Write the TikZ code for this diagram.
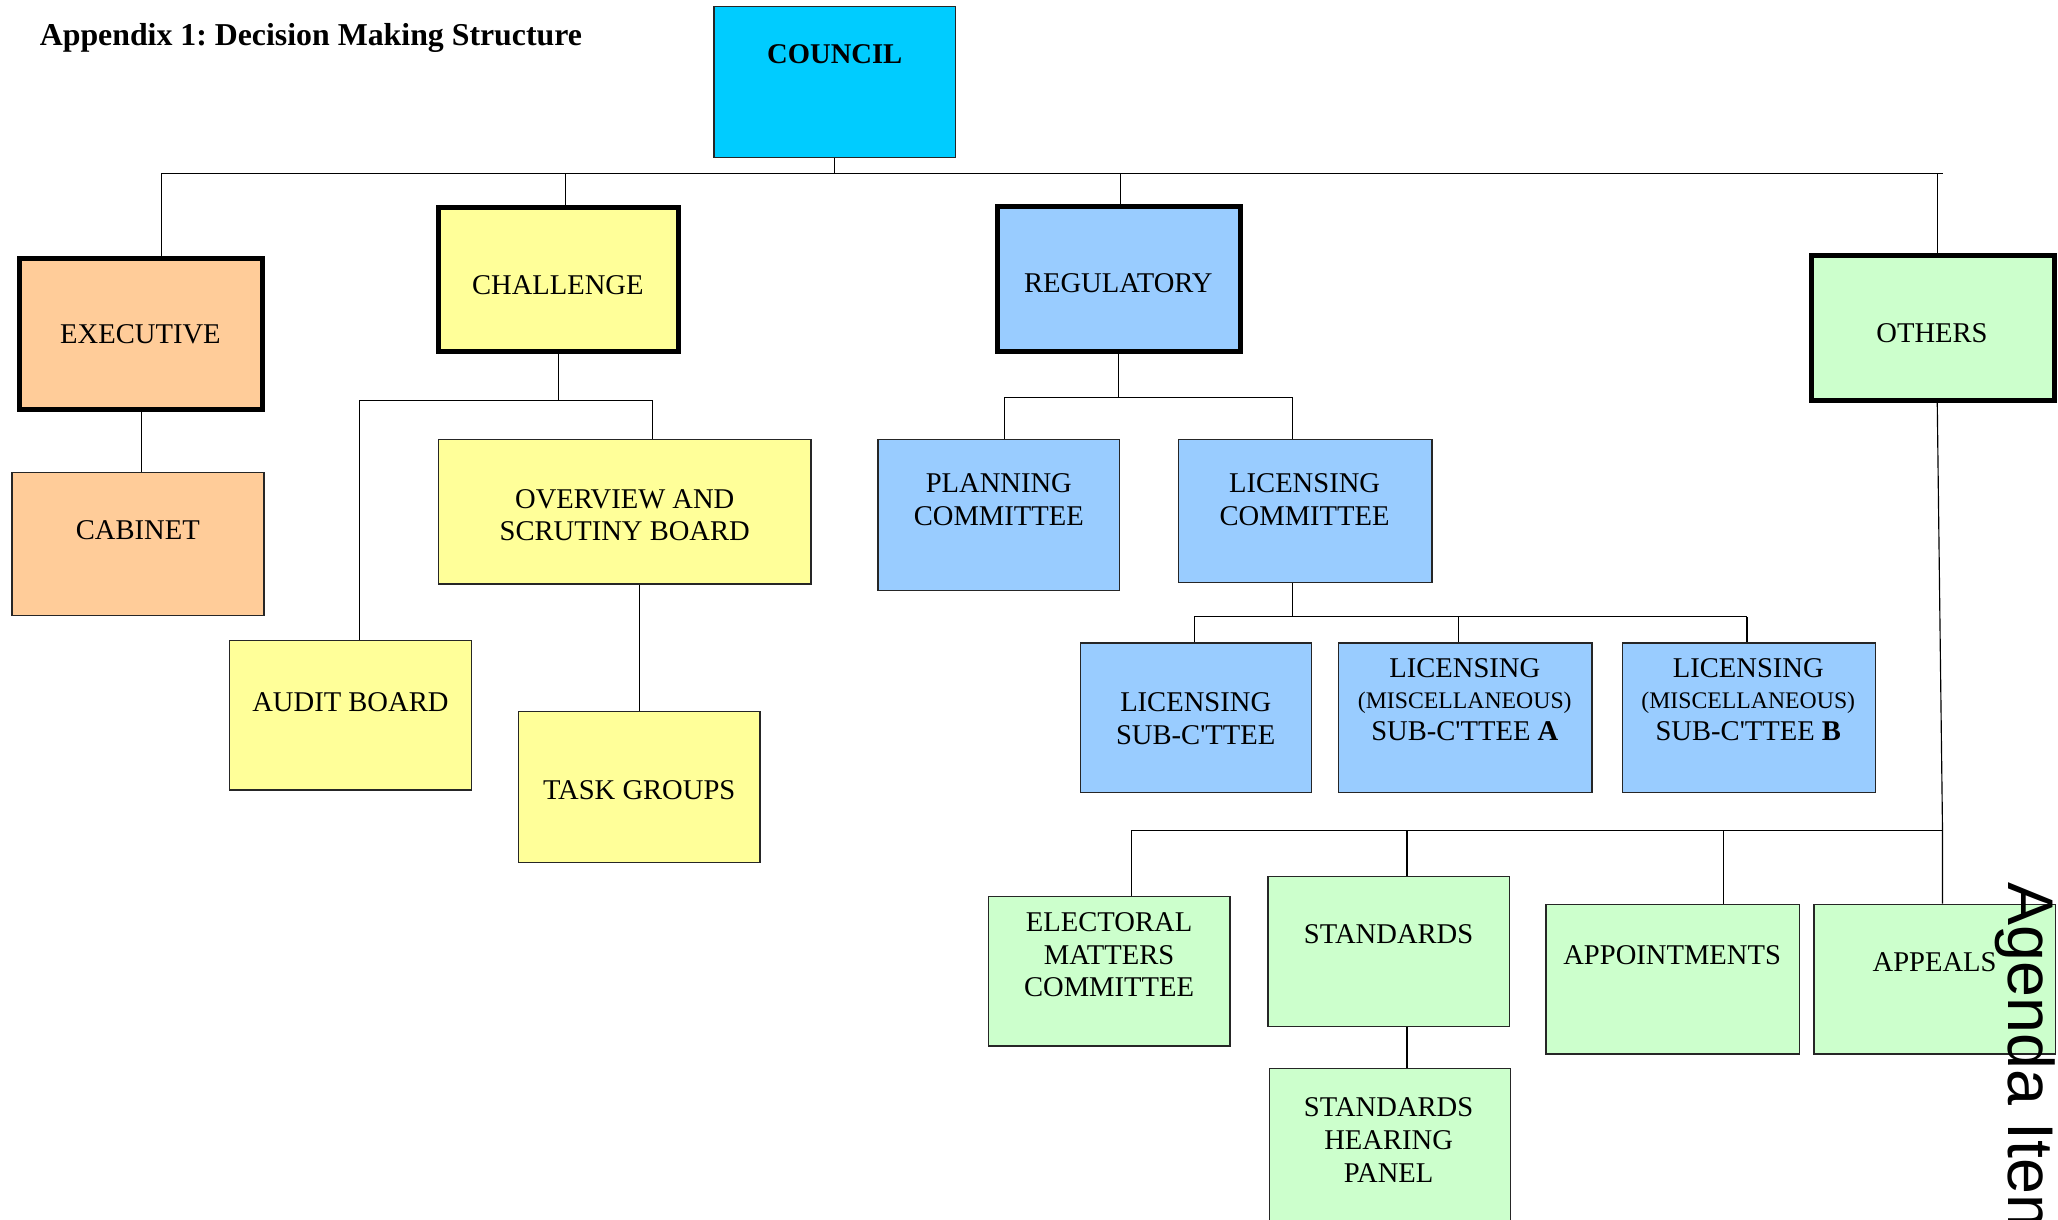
\documentclass[tikz,border=0pt]{standalone}
\usepackage{fontspec}
\setmainfont{Liberation Serif}
\newfontfamily\agendafont{Liberation Sans}
\usetikzlibrary{fit}
\frenchspacing

\definecolor{councilcol}{HTML}{00CCFF}
\definecolor{execcol}{HTML}{FFCC99}
\definecolor{chalcol}{HTML}{FFFF99}
\definecolor{regcol}{HTML}{99CCFF}
\definecolor{othcol}{HTML}{CCFFCC}

\tikzset{
  box/.style={draw=black!85, line width=0.6pt, inner sep=0pt, rectangle},
  topbox/.style={box, draw=black, line width=2.2pt},
  lbl/.style={align=center, inner sep=0pt, font=\fontsize{12.4}{14.2}\selectfont},
  misc/.style={lbl, font=\fontsize{12.4}{13.6}\selectfont},
  conn/.style={line width=0.5pt}
}

\begin{document}
\begin{tikzpicture}[x=0.02cm,y=-0.02cm]
\useasboundingbox (0,0) rectangle (1568,929);
\clip (0,0) rectangle (1568,929);

\node[anchor=base west, inner sep=0pt, font=\fontsize{13.8}{16}\selectfont\bfseries] (title) at (30,35) {Appendix 1: Decision Making Structure};

% top level
\node[box, fill=councilcol, fit={(544,5) (728,120)}] (council) {};
\node[topbox, fill=execcol, fit={(15,197) (200,312)}] (exec) {};
\node[topbox, fill=chalcol, fit={(334,158) (517,268)}] (chal) {};
\node[topbox, fill=regcol, fit={(760,157) (945,268)}] (reg) {};
\node[topbox, fill=othcol, fit={(1380,195) (1565,305)}] (oth) {};

% second level
\node[box, fill=execcol, fit={(9,360) (201,469)}] (cab) {};
\node[box, fill=chalcol, fit={(334,335) (618,445)}] (ovw) {};
\node[box, fill=chalcol, fit={(175,488) (359,602)}] (aud) {};
\node[box, fill=chalcol, fit={(395,542) (579,657)}] (task) {};
\node[box, fill=regcol, fit={(669,335) (853,450)}] (plan) {};
\node[box, fill=regcol, fit={(898,335) (1091,444)}] (lic) {};
\node[box, fill=regcol, fit={(823,490) (999,604)}] (lsub) {};
\node[box, fill=regcol, fit={(1020,490) (1213,604)}] (lsubA) {};
\node[box, fill=regcol, fit={(1236,490) (1429,604)}] (lsubB) {};
\node[box, fill=othcol, fit={(753,683) (937,797)}] (elec) {};
\node[box, fill=othcol, fit={(966,668) (1150,782)}] (std) {};
\node[box, fill=othcol, fit={(1178,689) (1371,803)}] (appt) {};
\node[box, fill=othcol, fit={(1382,689) (1566,803)}] (appeal) {};
\node[box, fill=othcol, fit={(967,814) (1151,945)}] (hear) {};

% labels
\node[lbl, font=\fontsize{12.4}{14.2}\selectfont\bfseries] (councilT) at (636,41) {COUNCIL};
\node[lbl] (execT) at (107,255) {EXECUTIVE};
\node[lbl] (chalT) at (425,217) {CHALLENGE};
\node[lbl] (regT) at (852,216) {REGULATORY};
\node[lbl] (othT) at (1472,254) {OTHERS};
\node[lbl] (cabT) at (105,404) {CABINET};
\node[lbl] (ovwT) at (476,392.5) {OVERVIEW AND\\SCRUTINY BOARD};
\node[lbl] (audT) at (267,535) {AUDIT BOARD};
\node[lbl] (taskT) at (487,602) {TASK GROUPS};
\node[lbl] (planT) at (761,380.5) {PLANNING\\COMMITTEE};
\node[lbl] (licT) at (994,380.5) {LICENSING\\COMMITTEE};
\node[lbl] (lsubT) at (911,547.5) {LICENSING\\SUB-C\textquotesingle TTEE};
\node[misc] (lsubAT) at (1116,533) {LICENSING\\{\fontsize{10.3}{13.6}\selectfont(MISCELLANEOUS)}\\SUB-C\textquotesingle TTEE \textbf{A}};
\node[misc] (lsubBT) at (1332,533) {LICENSING\\{\fontsize{10.3}{13.6}\selectfont(MISCELLANEOUS)}\\SUB-C\textquotesingle TTEE \textbf{B}};
\node[lbl] (elecT) at (845,727.5) {ELECTORAL\\MATTERS\\COMMITTEE};
\node[lbl] (stdT) at (1058,712) {STANDARDS};
\node[lbl] (apptT) at (1274,728) {APPOINTMENTS};
\node[lbl] (appealT) at (1474,733) {APPEALS};
\node[lbl] (hearT) at (1058,868.5) {STANDARDS\\HEARING\\PANEL};

% top bus
\coordinate (jExec) at (123,132);
\coordinate (jChal) at (431,132);
\coordinate (jReg) at (854,132);
\coordinate (jOth) at (1476,132);
\coordinate (jEnd) at (1480,132);
\draw[conn] (jExec) -- (jEnd);
\draw[conn] (council.south) -- (council.south |- jExec);
\draw[conn] (jExec) -- (jExec |- exec.north);
\draw[conn] (jChal) -- (jChal |- chal.north);
\draw[conn] (jReg) -- (jReg |- reg.north);
\draw[conn] (jOth) -- (jOth |- oth.north);

% executive
\draw[conn] (exec.south) -- (exec.south |- cab.north);

% challenge
\coordinate (jAud) at (274,305);
\coordinate (jOvw) at (497,305);
\draw[conn] (chal.south) -- (chal.south |- jAud);
\draw[conn] (jAud) -- (jOvw);
\draw[conn] (jAud) -- (jAud |- aud.north);
\draw[conn] (jOvw) -- (jOvw |- ovw.north);
\draw[conn] (task.north |- ovw.south) -- (task.north);

% regulatory
\coordinate (jPlan) at (765,303);
\coordinate (jLic) at (985,303);
\draw[conn] (reg.south) -- (reg.south |- jPlan);
\draw[conn] (jPlan) -- (jLic);
\draw[conn] (jPlan) -- (jPlan |- plan.north);
\draw[conn] (jLic) -- (jLic |- lic.north);
\coordinate (jLsub) at (910,470);
\coordinate (jLsubA) at (1111,470);
\coordinate (jLsubB) at (1331,470);
\draw[conn] (jLic |- lic.south) -- (jLic |- jLsub);
\draw[conn] (jLsub) -- (jLsubB);
\draw[conn] (jLsub) -- (jLsub |- lsub.north);
\draw[conn] (jLsubA) -- (jLsubA |- lsubA.north);
\draw[conn] (jLsubB) -- (jLsubB |- lsubB.north);

% others
\coordinate (jElec) at (862,633);
\coordinate (jStd) at (1072,633);
\coordinate (jAppt) at (1313,633);
\coordinate (jAppeal) at (1480,633);
\draw[conn] (jOth |- oth.south) -- (jAppeal) -- (jAppeal |- appeal.north);
\draw[conn] (jElec) -- (jAppeal);
\draw[conn] (jElec) -- (jElec |- elec.north);
\draw[conn] (jStd) -- (jStd |- std.north);
\draw[conn] (jAppt) -- (jAppt |- appt.north);
\draw[conn] (jStd |- std.south) -- (jStd |- hear.north);

\node[rotate=-90, anchor=base west, inner sep=0pt, font=\agendafont\fontsize{28}{32}\selectfont] (agenda) at (1530,672) {Agenda Item};
\end{tikzpicture}
\end{document}
